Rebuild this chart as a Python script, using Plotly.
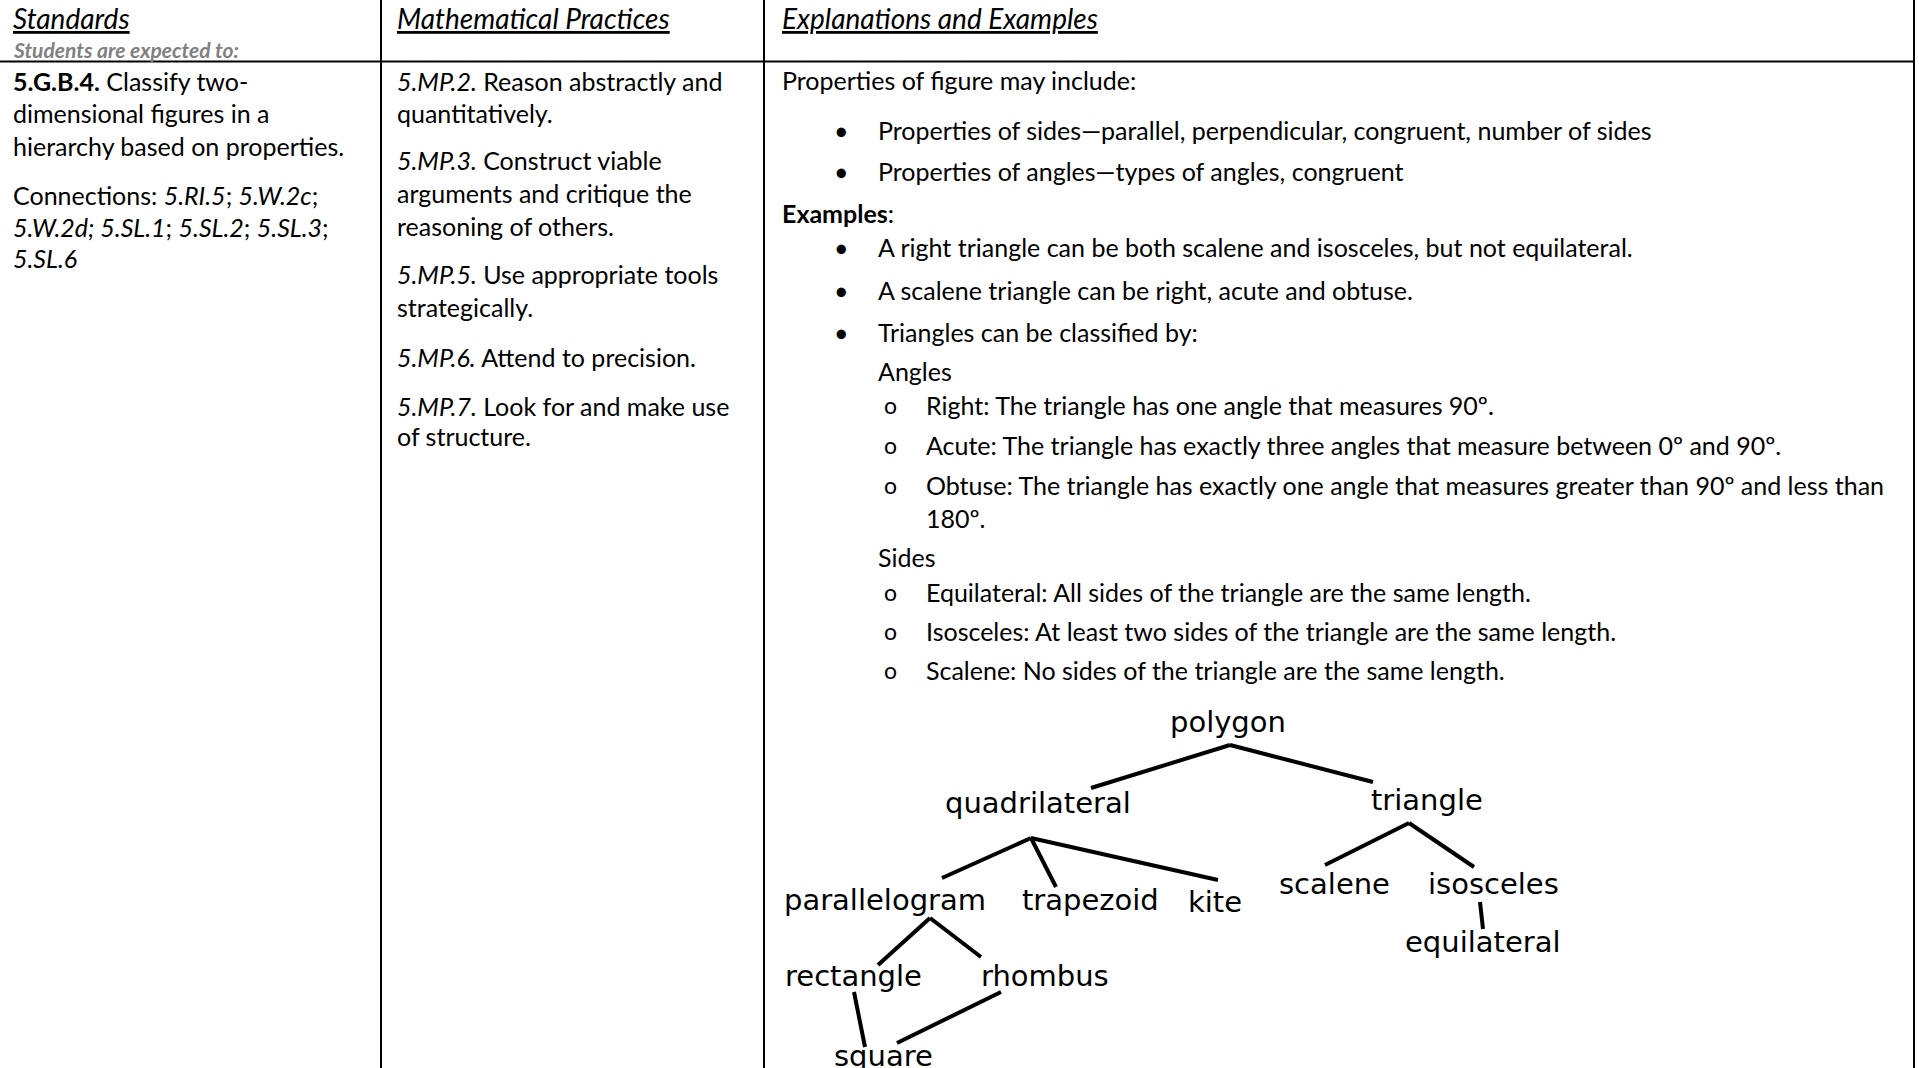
import plotly.graph_objects as go

W, H = 1919, 1068

# ---------------- text content ----------------
headers = ["Standards", "Mathematical Practices", "Explanations and Examples"]
subheader = "Students are expected to:"

col1_lines = [
    "<b>5.G.B.4.</b> Classify two-",
    "dimensional figures in a",
    "hierarchy based on properties.",
    "Connections: <i>5.RI.5</i>; <i>5.W.2c</i>;",
    "<i>5.W.2d; 5.SL.1</i>; <i>5.SL.2</i>; <i>5.SL.3</i>;",
    "<i>5.SL.6</i>",
]
col2_lines = [
    "<i>5.MP.2.</i> Reason abstractly and",
    "quantitatively.",
    "<i>5.MP.3.</i> Construct viable",
    "arguments and critique the",
    "reasoning of others.",
    "<i>5.MP.5.</i> Use appropriate tools",
    "strategically.",
    "<i>5.MP.6.</i> Attend to precision.",
    "<i>5.MP.7.</i> Look for and make use",
    "of structure.",
]
# (text, marker) marker: "" plain, "•" bullet, "o" sub-bullet, "in" indented plain
col3_lines = [
    ("Properties of figure may include:", ""),
    ("Properties of sides\u2014parallel, perpendicular, congruent, number of sides", "•"),
    ("Properties of angles\u2014types of angles, congruent", "•"),
    ("<b>Examples</b>:", ""),
    ("A right triangle can be both scalene and isosceles, but not equilateral.", "•"),
    ("A scalene triangle can be right, acute and obtuse.", "•"),
    ("Triangles can be classified by:", "•"),
    ("Angles", "in"),
    ("Right: The triangle has one angle that measures 90º.", "o"),
    ("Acute: The triangle has exactly three angles that measure between 0º and 90º.", "o"),
    ("Obtuse: The triangle has exactly one angle that measures greater than 90º and less than", "o"),
    ("180º.", "oc"),
    ("Sides", "in"),
    ("Equilateral: All sides of the triangle are the same length.", "o"),
    ("Isosceles: At least two sides of the triangle are the same length.", "o"),
    ("Scalene: No sides of the triangle are the same length.", "o"),
]

# hierarchy diagram
tree_nodes = ["polygon", "quadrilateral", "triangle", "parallelogram", "trapezoid",
              "kite", "scalene", "isosceles", "equilateral", "rectangle", "rhombus", "square"]
tree_x = [1228, 1038, 1427, 885, 1090, 1215, 1334, 1493, 1482, 853, 1045, 883]
tree_y = [722, 803, 800, 900, 900, 902, 884, 884, 942, 976, 976, 1056]
edge_x0 = [1230, 1230, 1031, 1031, 1031, 1409, 1409, 1480, 930, 930, 854, 1001]
edge_y0 = [745, 745, 838, 838, 838, 823, 823, 902, 918, 918, 992, 992]
edge_x1 = [1091, 1373, 942, 1056, 1218, 1325, 1474, 1483, 878, 981, 865, 897]
edge_y1 = [788, 782, 878, 887, 880, 865, 867, 929, 965, 957, 1047, 1043]

# ---------------- layout positions ----------------
col_x = [11, 395, 780]
header_y = 18
sub_y = 49
col1_y = [81, 113, 146, 195, 227, 258]
col2_y = [81, 113, 160, 193, 226, 274, 307, 357, 406, 436]
col3_y = [80, 130, 171, 213, 247, 290, 332, 371, 405, 445, 485, 518, 557, 592, 631, 670]
bullet_x, bullet_text_x = 832, 876
sub_x, sub_text_x = 882, 924

FONT = "Lato, 'Open Sans', sans-serif"
BODY = 25
TREEFONT = "'DejaVu Sans', Verdana, sans-serif"

fig = go.Figure()

# tree edges
for x0, y0, x1, y1 in zip(edge_x0, edge_y0, edge_x1, edge_y1):
    fig.add_trace(go.Scatter(x=[x0, x1], y=[y0, y1], mode="lines",
                             line=dict(color="black", width=4),
                             hoverinfo="skip", showlegend=False))

ann = []
def txt(x, y, s, size=BODY, family=FONT, color="black", xanchor="left"):
    ann.append(dict(x=x, y=y, xref="x", yref="y", text=s, showarrow=False,
                    xanchor=xanchor, yanchor="middle",
                    font=dict(family=family, size=size, color=color)))

for cx, h in zip(col_x, headers):
    txt(cx, header_y, "<i><u>" + h + "</u></i>", size=28)
txt(col_x[0], sub_y, "<b><i>" + subheader + "</i></b>", size=21, color="#808080")

for s, y in zip(col1_lines, col1_y):
    txt(col_x[0], y, s)
for s, y in zip(col2_lines, col2_y):
    txt(col_x[1], y, s)
for (s, m), y in zip(col3_lines, col3_y):
    if m == "":
        txt(col_x[2], y, s)
    elif m == "•":
        txt(bullet_x, y, "•", size=BODY)
        txt(bullet_text_x, y, s)
    elif m == "in":
        txt(bullet_text_x, y, s)
    elif m == "o":
        txt(sub_x, y, "o", size=BODY - 2)
        txt(sub_text_x, y, s)
    else:
        txt(sub_text_x, y, s)

for n, x, y in zip(tree_nodes, tree_x, tree_y):
    txt(x, y, n, size=29, family=TREEFONT, xanchor="center")

shapes = [
    dict(type="line", x0=0, x1=1915, y0=61.5, y1=61.5, xref="x", yref="y",
         line=dict(color="black", width=2)),
    dict(type="line", x0=381, x1=381, y0=0, y1=H, xref="x", yref="y",
         line=dict(color="black", width=2)),
    dict(type="line", x0=764, x1=764, y0=0, y1=H, xref="x", yref="y",
         line=dict(color="black", width=2)),
    dict(type="line", x0=1914, x1=1914, y0=0, y1=H, xref="x", yref="y",
         line=dict(color="black", width=2)),
]

fig.update_layout(
    width=W, height=H, margin=dict(l=0, r=0, t=0, b=0),
    paper_bgcolor="white", plot_bgcolor="white",
    xaxis=dict(range=[0, W], visible=False, fixedrange=True),
    yaxis=dict(range=[H, 0], visible=False, fixedrange=True),
    annotations=ann, shapes=shapes, showlegend=False,
)

fig.write_html("out.html", config={"displayModeBar": False},
               post_script="document.body.style.margin='0';document.body.style.overflow='hidden';")
